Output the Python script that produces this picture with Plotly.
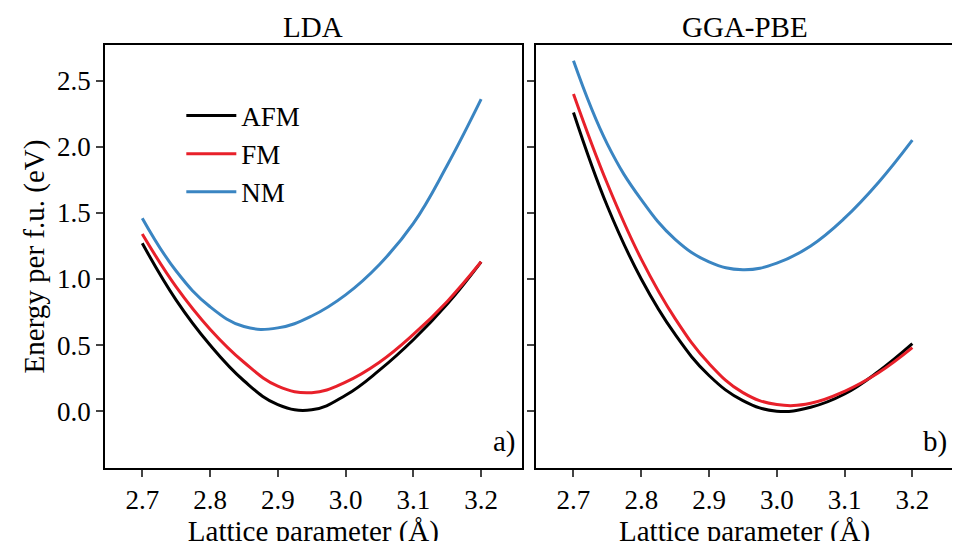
import plotly.graph_objects as go
from plotly.subplots import make_subplots

x_vals = [2.70, 2.75, 2.80, 2.85, 2.90, 2.95, 3.00, 3.05, 3.10, 3.15, 3.20]
lda_afm = [1.27, 0.84, 0.50, 0.23, 0.05, 0.01, 0.12, 0.31, 0.54, 0.81, 1.13]
lda_fm = [1.34, 0.94, 0.62, 0.37, 0.19, 0.14, 0.22, 0.37, 0.58, 0.83, 1.13]
lda_nm = [1.46, 1.06, 0.79, 0.64, 0.63, 0.72, 0.88, 1.11, 1.42, 1.86, 2.36]
gga_afm = [2.26, 1.55, 1.00, 0.58, 0.27, 0.08, 0.0, 0.03, 0.13, 0.30, 0.51]
gga_fm = [2.40, 1.72, 1.15, 0.70, 0.36, 0.14, 0.05, 0.06, 0.15, 0.29, 0.48]
gga_nm = [2.65, 2.02, 1.60, 1.30, 1.13, 1.07, 1.12, 1.25, 1.46, 1.73, 2.05]

titles = ["LDA", "GGA-PBE"]
colors = {"AFM": "#000000", "FM": "#e8202a", "NM": "#3a85c2"}
font = "Liberation Serif"

fig = make_subplots(rows=1, cols=2, shared_yaxes=True, horizontal_spacing=0.017,
                    subplot_titles=titles)
panels = [
    [("AFM", lda_afm), ("FM", lda_fm), ("NM", lda_nm)],
    [("AFM", gga_afm), ("FM", gga_fm), ("NM", gga_nm)],
]
for c, panel in enumerate(panels, start=1):
    for name, ys in panel:
        fig.add_trace(go.Scatter(x=x_vals, y=ys, mode="lines", name=name,
                                 line=dict(color=colors[name], width=3, shape="spline", smoothing=1.2),
                                 showlegend=(c == 1)), row=1, col=c)

axstyle = dict(showline=True, linecolor="black", linewidth=1.5, mirror=True, ticks="outside",
               ticklen=7, tickwidth=1.5, showgrid=False, zeroline=False,
               tickfont=dict(family=font, size=27, color="black"))
for c in (1, 2):
    fig.update_xaxes(range=[2.645, 3.26], tickvals=[2.7, 2.8, 2.9, 3.0, 3.1, 3.2],
                     ticktext=["2.7", "2.8", "2.9", "3.0", "3.1", "3.2"],
                     title=dict(text="Lattice parameter (Å)", font=dict(family=font, size=29, color="black"), standoff=2),
                     row=1, col=c, **axstyle)
fig.update_yaxes(range=[-0.43, 2.77], tickvals=[0, 0.5, 1.0, 1.5, 2.0, 2.5],
                 ticktext=["0.0", "0.5", "1.0", "1.5", "2.0", "2.5"], **axstyle)
fig.update_yaxes(title=dict(text="Energy per f.u. (eV)", font=dict(family=font, size=29, color="black"), standoff=4),
                 row=1, col=1)
for ann in fig.layout.annotations:
    ann.font = dict(family=font, size=29, color="black")
fig.add_annotation(text="a)", x=0.99, y=0.02, xref="x domain", yref="y domain",
                   xanchor="right", yanchor="bottom", showarrow=False, font=dict(family=font, size=29, color="black"))
fig.add_annotation(text="b)", x=0.99, y=0.02, xref="x2 domain", yref="y2 domain",
                   xanchor="right", yanchor="bottom", showarrow=False, font=dict(family=font, size=29, color="black"))

fig.update_layout(width=960, height=541, plot_bgcolor="white", paper_bgcolor="white",
                  margin=dict(l=97, r=15, t=37, b=58),
                  legend=dict(x=0.09, y=0.89, xref="paper", yref="paper", bgcolor="rgba(0,0,0,0)",
                              tracegroupgap=0, itemwidth=50,
                              font=dict(family=font, size=27, color="black")))
fig.write_html("out.html")
